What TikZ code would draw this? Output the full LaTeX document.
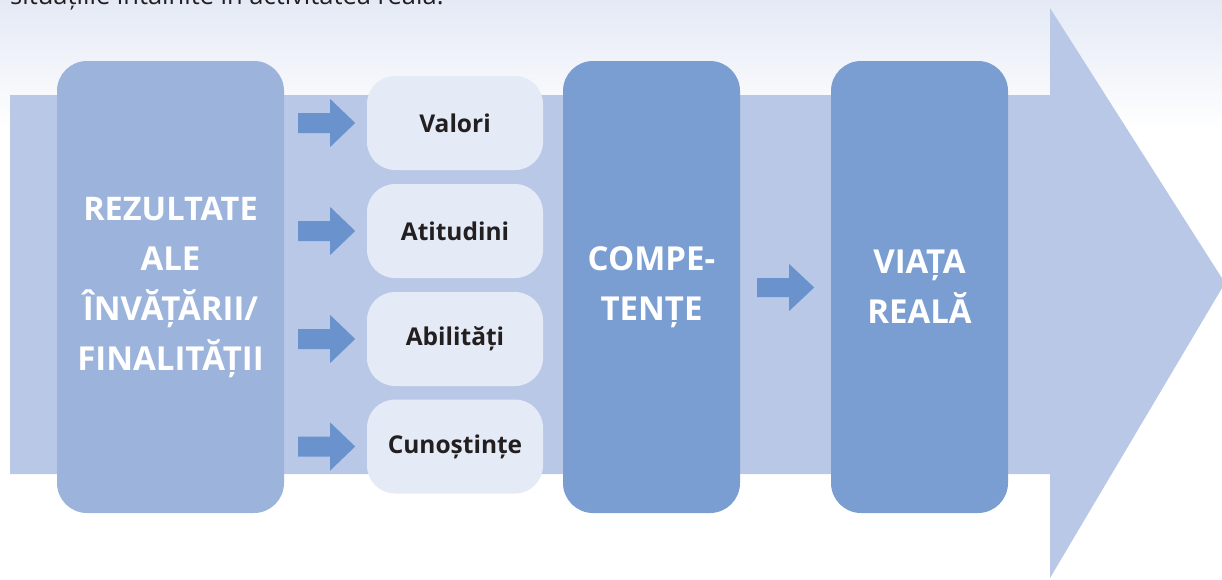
\documentclass[tikz,border=0pt]{standalone}
\usepackage{fontspec}
\setmainfont{Open Sans}
\usetikzlibrary{calc}
\definecolor{bandc}{HTML}{B9C8E6}
\definecolor{leftc}{HTML}{9CB3DC}
\definecolor{darkc}{HTML}{7B9ED2}
\definecolor{smallc}{HTML}{E4EAF6}
\definecolor{arrowc}{HTML}{6A93CD}
\definecolor{topc}{HTML}{E4E9F5}
\definecolor{textc}{HTML}{231F20}
\begin{document}
\begin{tikzpicture}[x=1pt,y=-1pt,
  bigbox/.style={fill=#1, draw=none, rounded corners=30pt, minimum height=452pt, inner sep=0pt,
     text=white, align=center, font=\bfseries\fontsize{33}{50}\selectfont},
  smallbox/.style={fill=smallc, draw=none, rounded corners=28pt, minimum width=176pt, minimum height=94pt,
     inner sep=0pt, text=textc, align=center, font=\bfseries\fontsize{24.5}{30}\selectfont},
  blockarrow/.style={fill=arrowc, draw=none}]
\useasboundingbox (0,0) rectangle (1222,579);
\clip (0,0) rectangle (1222,579);
% background gradient
\shade[top color=topc, bottom color=white] (0,0) rectangle (1222,130);
% cut-off top line of text
\node[anchor=base west, inner sep=0pt, text=textc, font=\fontsize{25.5}{30}\selectfont] (toptext) at (10,4) {situațiile întâlnite în activitatea reală.};
% big arrow
\fill[bandc] (10,95) -- (1050,95) -- (1050,8) -- (1225,283) -- (1050,578) -- (1050,474) -- (10,474) -- cycle;
% main boxes
\node[bigbox=leftc, minimum width=227pt] (rez) at (170.5,287)
  {\fontsize{32.5}{46.5}\selectfont REZULTATE\\ALE\\ÎNVĂȚĂRII/\\FINALITĂȚII};
\node[bigbox=darkc, minimum width=177pt] (comp) at (651.5,287) {COMPE-\\TENȚE};
\node[bigbox=darkc, minimum width=177pt] (viata) at (919.5,287) {VIAȚA\\REALĂ};
% small boxes
\node[smallbox] (val) at (455,123) {Valori};
\node[smallbox] (ati) at (455,231) {Atitudini};
\node[smallbox] (abi) at (455,339) {Abilități};
\node[smallbox] (cun) at (455,446.5) {Cunoștințe};
% block arrows
\foreach \b in {val,ati,abi,cun}{
  \fill[blockarrow] ($(rez.east |- \b.west)+(14,-10)$) -- ++(32,0) -- ++(0,-14) -- ++(25,24)
     -- ++(-25,24) -- ++(0,-14) -- ++(-32,0) -- cycle;
}
\fill[blockarrow] ($(comp.east)+(17,-9)$) -- ++(32,0) -- ++(0,-14) -- ++(25,23.5)
     -- ++(-25,23.5) -- ++(0,-14) -- ++(-32,0) -- cycle;
\end{tikzpicture}
\end{document}
